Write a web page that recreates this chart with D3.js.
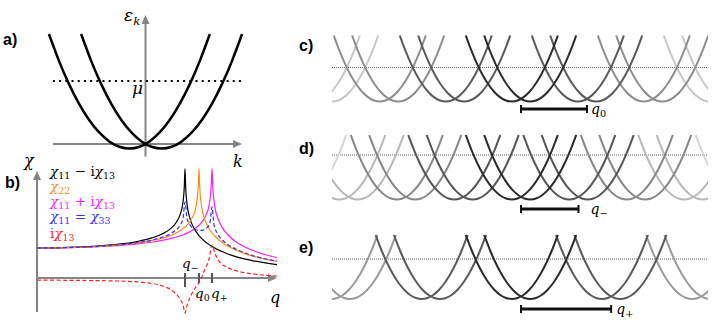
<!DOCTYPE html>
<html>
<head>
<meta charset="utf-8">
<script src="https://cdn.jsdelivr.net/npm/d3@7"></script>
<style>
  body { margin: 0; background: #fff; }
  text { white-space: pre; }
</style>
</head>
<body>
<svg width="715" height="323"></svg>
<script>
// ---- data ----
// band dispersion eps = k^2, sampled (k in units of the half width drawn)
const bandShape = [[-1,1],[-0.875,0.765625],[-0.75,0.5625],[-0.625,0.390625],[-0.5,0.25],[-0.375,0.140625],
  [-0.25,0.0625],[-0.125,0.015625],[0,0],[0.125,0.015625],[0.25,0.0625],[0.375,0.140625],[0.5,0.25],
  [0.625,0.390625],[0.75,0.5625],[0.875,0.765625],[1,1]]
const bandOffsets = [-0.2, 0.2]
const bandMinA = -0.04
const muA = 0.55

// panels c, d, e
const panelKeys = ["c", "d", "e"]
const nestQ = [1.435, 1.25, 1.96]
const muLevel = [0.515, 0.69, 0.625]
const qSubs = ["0", "\u2212", "+"]
const replicas = [-4, -3, -2, -1, 0, 1, 2, 3, 4]
const shades = [
  ["#2b2b2b", "#5a5a5a", "#8e8e8e", "#c8c8c8", "#dcdcdc"],
  ["#2b2b2b", "#565656", "#878787", "#b8b8b8", "#d6d6d6"],
  ["#2b2b2b", "#5a5a5a", "#9a9a9a", "#c0c0c0", "#d0d0d0"]
]

// panel b: susceptibilities [q, chi]
const chiMinus = [[0,1],[20,1.006],[40,1.026],[60,1.061],[80,1.119],[100,1.215],[115,1.336],[125,1.465],
  [133,1.63],[139,1.843],[143,2.103],[146,2.529],[147.3,3.037],[148,3.65],[148.7,3.01],[150,2.469],
  [153,1.982],[157,1.661],[162,1.415],[170,1.163],[180,0.957],[195,0.754],[215,0.582],[240,0.444]]
const chi22 = [[0,1],[20,1.005],[40,1.021],[60,1.05],[80,1.096],[100,1.167],[120,1.285],[135,1.439],
  [145,1.616],[152,1.837],[156,2.062],[159,2.38],[161.3,3.081],[162,3.65],[162.7,3.056],[165,2.303],
  [168,1.932],[172,1.652],[178,1.391],[186,1.165],[197,0.957],[212,0.769],[240,0.553]]
const chiPlus = [[0,1],[20,1.004],[40,1.018],[60,1.042],[80,1.08],[100,1.137],[120,1.225],[135,1.327],
  [148,1.467],[157,1.624],[164,1.829],[169,2.096],[172,2.417],[174.3,3.119],[175,3.65],[175.7,3.096],
  [178,2.344],[181,1.974],[185,1.695],[191,1.434],[199,1.208],[210,0.999],[225,0.809],[240,0.676]]
const chi11 = [[0,1],[40,1.022],[80,1.1],[100,1.176],[120,1.309],[135,1.508],[142,1.708],[146,1.985],
  [148,2.53],[150,1.982],[155,1.691],[160,1.6],[165,1.588],[170,1.671],[173,1.851],[175,2.37],
  [177,1.783],[181,1.457],[190,1.141],[200,0.944],[215,0.754],[240,0.56]]
const chi13 = [[0,-0.07],[40,-0.08],[80,-0.1],[110,-0.16],[125,-0.26],[135,-0.42],[142,-0.65],[146,-0.9],
  [148,-1.17],[150,-0.92],[154,-0.58],[158,-0.34],[163,-0.1],[168,0.3],[172,0.62],[175,1.1],[178,0.82],
  [182,0.56],[190,0.36],[203,0.21],[220,0.12],[240,0.06]]
const qMarks = [148, 162, 175]

const legendLabels = [
  [["χ","it"],["11","sub"],["\u2004\u2212\u2004i",""],["χ","it"],["13","sub"]],
  [["χ","it"],["22","sub"]],
  [["χ","it"],["11","sub"],["\u2004+\u2004i",""],["χ","it"],["13","sub"]],
  [["χ","it"],["11","sub"],["\u2004=\u2004",""],["χ","it"],["33","sub"]],
  [["i",""],["χ","it"],["13","sub"]]
]
const legendColors = ["#000000", "#ff8c1a", "#ff1cff", "#3030ff", "#ff2020"]

// ---- drawing ----
const svg = d3.select("svg")
const axisGray = "#858585"
const mathFont = "DejaVu Serif"

svg.append("defs").append("marker")
    .attr("id", "arr")
    .attr("viewBox", "0 0 9 8")
    .attr("refX", 6).attr("refY", 4)
    .attr("markerWidth", 9).attr("markerHeight", 8)
    .attr("markerUnits", "userSpaceOnUse")
    .attr("orient", "auto")
  .append("path")
    .attr("d", "M0,0L9,4L0,8Z")
    .attr("fill", axisGray)

svg.select("defs").append("clipPath").attr("id", "stripClip")
  .append("rect").attr("x", 332).attr("y", 0).attr("width", 376).attr("height", 323)

function mathText(g, x, y, parts, size, color) {
  const t = g.append("text")
      .attr("x", x).attr("y", y)
      .style("font-family", mathFont)
      .attr("font-size", size)
      .attr("fill", color)
  let cur = 0
  parts.forEach(([s, kind]) => {
    const sp = t.append("tspan").text(s)
    const target = kind.includes("sub") ? size * 0.24 : 0
    if (target !== cur) sp.attr("dy", target - cur)
    cur = target
    if (kind.includes("sub")) sp.attr("font-size", size * 0.7)
    if (kind.includes("it")) sp.attr("font-style", "italic")
  })
  return t
}

function panelLabel(x, y, s) {
  svg.append("text")
    .attr("x", x).attr("y", y)
    .style("font-family", "Liberation Sans")
    .attr("font-weight", "bold")
    .attr("font-size", 16)
    .text(s)
}

function arrowLine(g, x1, y1, x2, y2) {
  g.append("line")
    .attr("x1", x1).attr("y1", y1).attr("x2", x2).attr("y2", y2)
    .attr("stroke", axisGray).attr("stroke-width", 2)
    .attr("marker-end", "url(#arr)")
}

// Panel a: two shifted bands
const aX = d3.scaleLinear([-1, 1], [65, 226])
const aY = d3.scaleLinear([0, 1], [144, 29.4])
const gA = svg.append("g")
arrowLine(gA, aX(-1.15), aY(0), aX(1.16), aY(0))
arrowLine(gA, aX(0), aY(-0.11), aX(0), aY(1.1))
gA.append("line")
    .attr("x1", aX(-1.15)).attr("x2", aX(1.19))
    .attr("y1", aY(muA)).attr("y2", aY(muA))
    .attr("stroke", "#000").attr("stroke-width", 2)
    .attr("stroke-dasharray", "2,4.2")
const bandLineA = d3.line()
    .x(d => aX(d[0])).y(d => aY(d[1]))
    .curve(d3.curveNatural)
gA.selectAll("path.band")
  .data(bandOffsets)
  .join("path")
    .attr("class", "band")
    .attr("d", o => bandLineA(bandShape.map(([k, e]) => [k + o, e + bandMinA])))
    .attr("fill", "none").attr("stroke", "#000").attr("stroke-width", 2.5)
mathText(gA, 124, 21, [["ε","it"],["k","subit"]], 17, "#000")
mathText(gA, 132, 94, [["μ","it"]], 17, "#000")
mathText(gA, 233, 167, [["k","it"]], 16, "#000")
panelLabel(3, 45, "a)")

// Panel b: susceptibilities
const bX = d3.scaleLinear([0, 240], [37, 277])
const bY = d3.scaleLinear([0, 1], [278, 248])
const gB = svg.append("g")
arrowLine(gB, bX(0), 312, bX(0), 174)
arrowLine(gB, bX(0), bY(0), bX(237), bY(0))
qMarks.forEach((q, i) => {
  gB.append("line")
    .attr("x1", bX(q)).attr("x2", bX(q))
    .attr("y1", bY(0) - 5).attr("y2", bY(0) + (i === 0 ? 9 : 5))
    .attr("stroke", "#555").attr("stroke-width", 2)
})
const chiLine = d3.line().x(d => bX(d[0])).y(d => bY(d[1])).curve(d3.curveMonotoneX)
const curves = [
  {data: chiPlus, color: legendColors[2], dash: null},
  {data: chiMinus, color: legendColors[0], dash: null},
  {data: chi22, color: legendColors[1], dash: null},
  {data: chi11, color: legendColors[3], dash: "4,2.5"},
  {data: chi13, color: legendColors[4], dash: "4,2.5"}
]
gB.selectAll("path.chi")
  .data(curves)
  .join("path")
    .attr("class", "chi")
    .attr("d", d => chiLine(d.data))
    .attr("fill", "none")
    .attr("stroke", d => d.color)
    .attr("stroke-width", 1.2)
    .attr("stroke-dasharray", d => d.dash)
const legendBase = [176, 191, 206, 221, 238]
legendLabels.forEach((parts, i) => {
  mathText(gB, 50, legendBase[i], parts, 13.5, legendColors[i])
})
mathText(gB, 24, 166, [["χ","it"]], 16, "#000")
mathText(gB, 270, 303, [["q","it"]], 16, "#000")
mathText(gB, 182, 268, [["q","it"],["\u2212","sub"]], 13.5, "#000")
mathText(gB, 195, 298, [["q","it"],["0","sub"]], 13.5, "#000")
mathText(gB, 211, 298, [["q","it"],["+","sub"]], 13.5, "#000")
panelLabel(5, 188, "b)")

// Panels c, d, e: replicated bands shifted by the nesting vector
const vertexY = [101.5, 199.5, 299]
const bandH = [66, 64.5, 64]
const barY = [109, 209, 309]
const qLabelGap = [4, 12, 5]
const labelY = [51, 154, 253]
const sX = d3.scaleLinear([0, 1], [521, 567])

panelKeys.forEach((key, p) => {
  const sY = d3.scaleLinear([0, 1], [vertexY[p], vertexY[p] - bandH[p]])
  const g = svg.append("g")
  const gc = g.append("g").attr("clip-path", "url(#stripClip)")
  gc.append("line")
    .attr("x1", 332).attr("x2", 708)
    .attr("y1", sY(muLevel[p])).attr("y2", sY(muLevel[p]))
    .attr("stroke", "#666").attr("stroke-width", 1)
    .attr("stroke-dasharray", "1,1")
  const bands = []
  replicas.forEach(n => bandOffsets.forEach(o => bands.push({n, c: n * nestQ[p] + o})))
  bands.sort((a, b) => Math.abs(b.n) - Math.abs(a.n))
  const bl = d3.line().x(d => sX(d[0])).y(d => sY(d[1])).curve(d3.curveNatural)
  gc.selectAll("path.rep")
    .data(bands)
    .join("path")
      .attr("class", "rep")
      .attr("d", d => bl(bandShape.map(([k, e]) => [k + d.c, e])))
      .attr("fill", "none")
      .attr("stroke", d => shades[p][Math.abs(d.n)])
      .attr("stroke-width", 2)
  // nesting vector bar
  const x0 = sX(0), x1 = sX(nestQ[p])
  g.append("line").attr("x1", x0).attr("x2", x1).attr("y1", barY[p]).attr("y2", barY[p])
    .attr("stroke", "#111").attr("stroke-width", 3)
  ;[x0, x1].forEach(x => g.append("line")
    .attr("x1", x).attr("x2", x).attr("y1", barY[p] - 4).attr("y2", barY[p] + 4)
    .attr("stroke", "#111").attr("stroke-width", 2))
  mathText(g, x1 + qLabelGap[p], barY[p] + 5, [["q","it"],[qSubs[p],"sub"]], 14, "#000")
  panelLabel(299, labelY[p], key + ")")
})
</script>
</body>
</html>
